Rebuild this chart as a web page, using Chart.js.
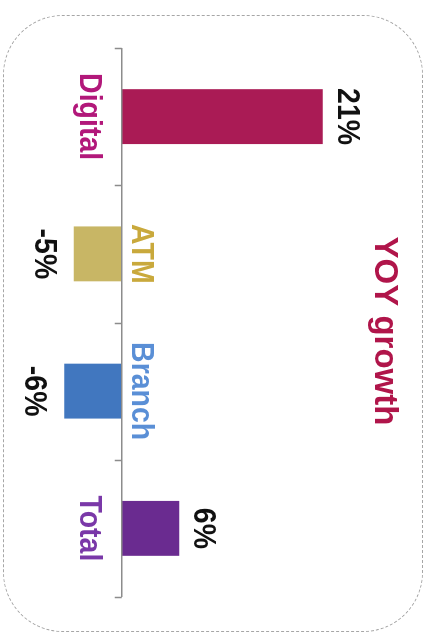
<!DOCTYPE html>
<html>
<head>
<meta charset="utf-8">
<script src="https://cdn.jsdelivr.net/npm/chart.js@4"></script>
<style>
  html, body { margin: 0; padding: 0; background: #fff; overflow: hidden; }
  #page { position: relative; width: 433px; height: 635px; }
  /* the chart is laid out landscape and turned a quarter clockwise */
  #turn {
    position: absolute; left: 0; top: 0; width: 635px; height: 433px;
    transform-origin: 0 0; transform: translate(433px, 0) rotate(90deg);
  }
  #frame {
    position: absolute; left: 15px; top: 10px; width: 615px; height: 418px;
    border: 1px dashed #a6a6a6; border-radius: 60px;
  }
  #chart { position: absolute; left: 0; top: 0; }
</style>
</head>
<body>
<div id="page">
  <div id="turn">
    <div id="frame"></div>
    <canvas id="chart" width="635" height="433"></canvas>
  </div>
</div>
<script>
const categories = ['Digital', 'ATM', 'Branch', 'Total'];
const growth = [21, -5, -6, 6];
const barColors = ['#AA1B55', '#C8B665', '#4177BF', '#6A2B90'];
const labelColors = ['#B2187A', '#C9A93C', '#5A8FD6', '#7A38A8'];
const chartTitle = 'YOY growth';

const FONT = '"Liberation Sans", Arial, sans-serif';

// narrow bold text, centred on x, sitting on the given baseline
function squeezedText(ctx, text, x, baseline, color) {
  ctx.save();
  ctx.translate(x, baseline);
  ctx.scale(0.89, 1);
  ctx.fillStyle = color;
  ctx.textAlign = 'center';
  ctx.textBaseline = 'alphabetic';
  ctx.font = 'bold 32px ' + FONT;
  ctx.fillText(text, 0, 0);
  ctx.restore();
}

const annotate = {
  id: 'annotate',
  afterDatasetsDraw(chart) {
    const { ctx, chartArea, scales: { x, y } } = chart;
    const zero = y.getPixelForValue(0);
    const step = (chartArea.right - chartArea.left) / categories.length;

    ctx.save();
    // zero line with ticks between categories
    ctx.strokeStyle = '#8c8c8c';
    ctx.lineWidth = 1.5;
    ctx.beginPath();
    ctx.moveTo(chartArea.left, zero);
    ctx.lineTo(chartArea.right, zero);
    for (let i = 0; i <= categories.length; i++) {
      const px = Math.round(chartArea.left + i * step) + 0.5;
      ctx.moveTo(px, zero);
      ctx.lineTo(px, zero + 7);
    }
    ctx.stroke();

    categories.forEach((name, i) => {
      const v = growth[i];
      const cx = x.getPixelForValue(i);
      const end = y.getPixelForValue(v);
      if (v >= 0) {
        squeezedText(ctx, name, cx, zero + 42, labelColors[i]);
        squeezedText(ctx, v + '%', cx, end - 15, '#111');
      } else {
        squeezedText(ctx, name, cx, zero - 10, labelColors[i]);
        squeezedText(ctx, v + '%', cx, end + 39, '#111');
      }
    });

    ctx.fillStyle = '#B0154A';
    ctx.font = 'bold 33px ' + FONT;
    ctx.textAlign = 'center';
    ctx.fillText(chartTitle, 331, 58);
    ctx.restore();
  }
};

new Chart(document.getElementById('chart'), {
  type: 'bar',
  data: {
    labels: categories,
    datasets: [{
      data: growth,
      backgroundColor: barColors,
      borderWidth: 0,
      categoryPercentage: 1,
      barPercentage: 0.4
    }]
  },
  options: {
    responsive: false,
    animation: false,
    layout: { padding: { left: 48, right: 38, top: 72, bottom: 26 } },
    plugins: { legend: { display: false }, tooltip: { enabled: false } },
    scales: {
      x: { display: false },
      y: { display: false, min: -10, max: 25 }
    }
  },
  plugins: [annotate]
});
</script>
</body>
</html>
